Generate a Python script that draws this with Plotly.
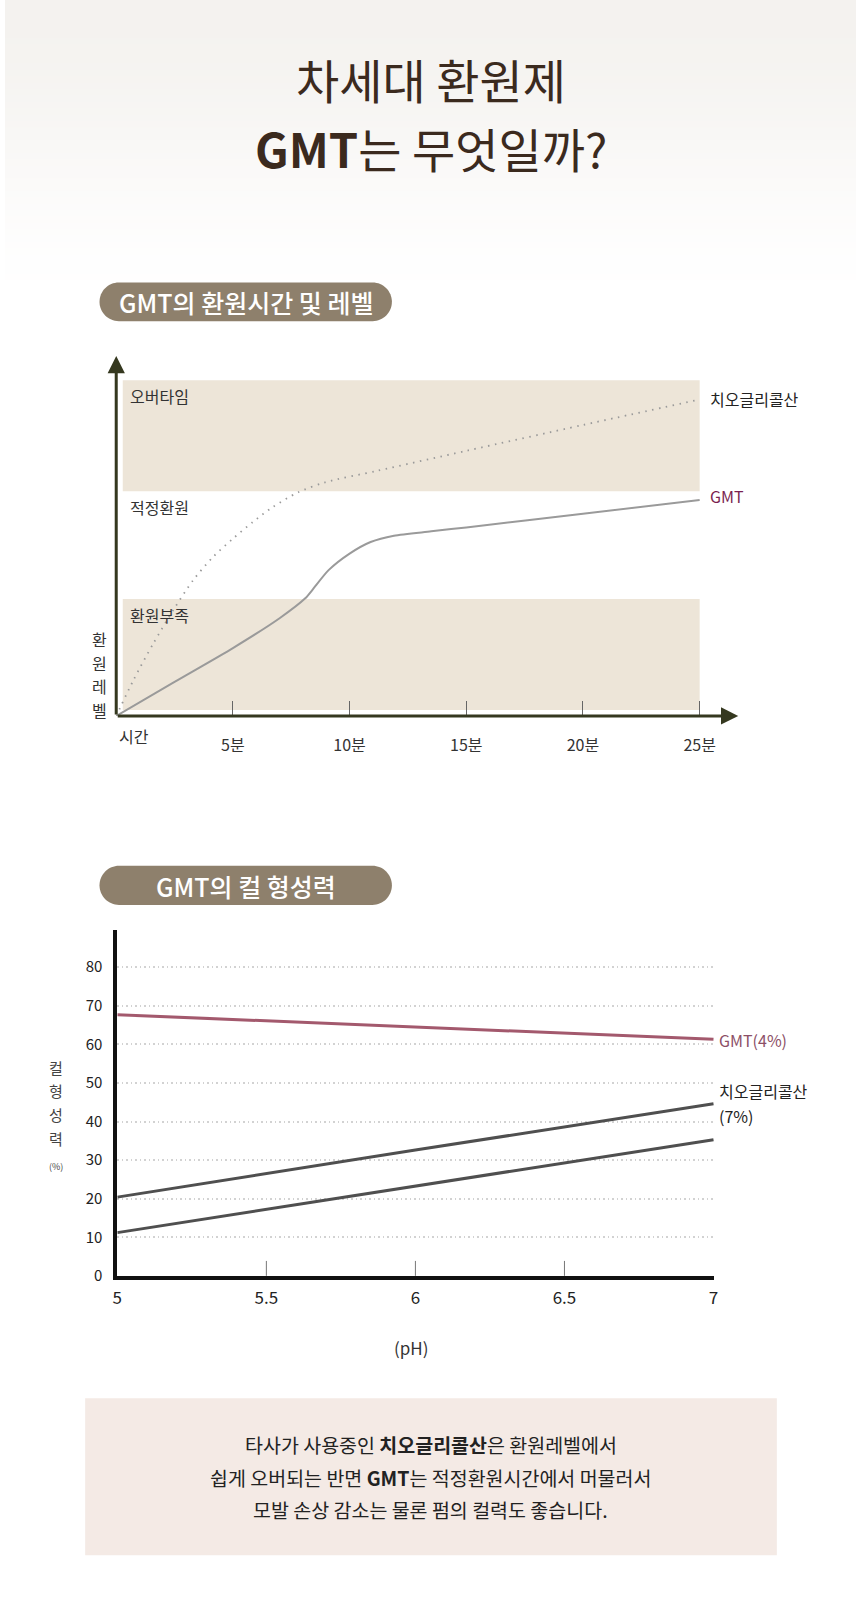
import plotly.graph_objects as go

# ---------------- data ----------------
# Chart 1: 환원시간 및 레벨 (x: minutes, y: relative reduction level)
time_ticks = [5, 10, 15, 20, 25]
time_ticktext = ["5분", "10분", "15분", "20분", "25분"]

gmt_time = [0, 2.5, 5, 7, 8.1, 8.4, 9.1, 10, 10.9, 11.9, 13.5, 15, 20, 25]
gmt_level = [0, 10.3, 20.5, 29.5, 35.5, 38, 44, 49, 52.5, 54.4, 55.7, 56.9, 61, 65.2]

thio_time = [0, 0.75, 1.6, 2.45, 3.3, 4.15, 5, 5.85, 6.7, 7.8, 8.95, 11.2, 15, 20, 25]
thio_level = [0, 11, 22, 32, 41, 48, 53.5, 58.5, 63, 67.5, 70.5, 74, 80, 87.8, 95.5]

zone_names = ["환원부족", "적정환원", "오버타임"]
zone_low = [1.8, 35.3, 67.8]
zone_high = [35.3, 67.8, 101.3]
zone_shaded = [True, False, True]

# Chart 2: 컬 형성력 (x: pH, y: %)
ph_values = [5, 6, 7]
gmt_curl = [67.7, 64.5, 61.3]
thio_curl_high = [20.4, 32.6, 44.6]
thio_curl_low = [11.2, 23.2, 35.3]
ph_ticks = [5, 5.5, 6, 6.5, 7]
ph_ticktext = ["5", "5.5", "6", "6.5", "7"]
ph_tickmarks = [5.5, 6, 6.5]
curl_ticks = [0, 10, 20, 30, 40, 50, 60, 70, 80]

# ---------------- layout helpers ----------------
W, H = 860, 1613
FONT = "Noto Sans CJK KR"


def fx(px):
    return px / W


def fy(py):
    return 1 - py / H


fig = go.Figure()

# background gradient at top
n_strips = 50
strip_h = 6.4
top_rgb = (244, 242, 239)
for i in range(n_strips):
    t = i / (n_strips - 1)
    t = t * t * (3 - 2 * t)
    c = tuple(int(round(top_rgb[k] + (255 - top_rgb[k]) * t)) for k in range(3))
    fig.add_shape(type="rect", xref="paper", yref="paper",
                  x0=0, x1=1, y0=fy(i * strip_h + strip_h + 1), y1=fy(i * strip_h),
                  fillcolor="rgb(%d,%d,%d)" % c, line_width=0, layer="below")


def pill(x0, y0, x1, y1, color):
    r = (y1 - y0) / 2
    k = 0.5523 * r
    pts = [
        ("M", [(x0 + r, y0)]),
        ("L", [(x1 - r, y0)]),
        ("C", [(x1 - r + k, y0), (x1, y0 + r - k), (x1, y0 + r)]),
        ("C", [(x1, y0 + r + k), (x1 - r + k, y1), (x1 - r, y1)]),
        ("L", [(x0 + r, y1)]),
        ("C", [(x0 + r - k, y1), (x0, y0 + r + k), (x0, y0 + r)]),
        ("C", [(x0, y0 + r - k), (x0 + r - k, y0), (x0 + r, y0)]),
    ]
    path = ""
    for cmd, ps in pts:
        path += cmd + " ".join("%.5f,%.5f" % (fx(a), fy(b)) for a, b in ps) + " "
    path += "Z"
    fig.add_shape(type="path", xref="paper", yref="paper", path=path,
                  fillcolor=color, line_width=0, layer="below")


PILL = "#8e806c"
pill(95.5, 284, 391, 323, PILL)
pill(95.5, 870.5, 391, 910, PILL)

# summary box
fig.add_shape(type="rect", xref="paper", yref="paper",
              x0=fx(81), x1=fx(780), y0=fy(1564), y1=fy(1406),
              fillcolor="#f4eae5", line_width=0, layer="below")

# ---------------- Chart 1 ----------------
px_per_min = 23.584
x1_start, x1_end = 112.4, 745
y1_base, y1_top = 720, 350
px_per_lvl = 3.333

band_x0 = 0.28
for name, lo, hi, shaded in zip(zone_names, zone_low, zone_high, zone_shaded):
    if shaded:
        fig.add_shape(type="rect", xref="x", yref="y", x0=band_x0, x1=time_ticks[-1],
                      y0=lo, y1=hi, fillcolor="#ede5d8", line_width=0, layer="below")
    fig.add_annotation(x=0.49, y=hi - 4.8, xref="x", yref="y", text=name,
                       showarrow=False, xanchor="left", yanchor="middle",
                       font=dict(family=FONT, size=16, color="#333333"))

fig.add_trace(go.Scatter(x=thio_time, y=thio_level, mode="lines", xaxis="x", yaxis="y",
                         line=dict(color="#9a9a9a", width=1.8, dash="1.5px,5.5px",
                                   shape="spline", smoothing=0.8),
                         hoverinfo="skip", showlegend=False))
fig.add_trace(go.Scatter(x=gmt_time, y=gmt_level, mode="lines", xaxis="x", yaxis="y",
                         line=dict(color="#9a9a9a", width=2, shape="spline", smoothing=0.7),
                         hoverinfo="skip", showlegend=False))

# axes arrows
AX = "#35381f"
x_tip = (741 - x1_start) / px_per_min
y_tip = (y1_base - 358) / px_per_lvl
fig.add_annotation(x=x_tip, y=0, ax=0, ay=0, xref="x", yref="y", axref="x", ayref="y",
                   text="", showarrow=True, arrowhead=2, arrowsize=1.15, arrowwidth=3,
                   arrowcolor=AX, standoff=0)
fig.add_annotation(x=0, y=y_tip, ax=0, ay=0, xref="x", yref="y", axref="x", ayref="y",
                   text="", showarrow=True, arrowhead=2, arrowsize=1.15, arrowwidth=3,
                   arrowcolor=AX, standoff=0)

# end labels
fig.add_annotation(x=thio_time[-1], y=thio_level[-1], xref="x", yref="y", text="치오글리콜산",
                   showarrow=False, xanchor="left", yanchor="middle", xshift=8,
                   font=dict(family=FONT, size=16, color="#222222"))
fig.add_annotation(x=gmt_time[-1], y=gmt_level[-1], xref="x", yref="y", text="GMT",
                   showarrow=False, xanchor="left", yanchor="middle", xshift=8, yshift=4,
                   font=dict(family=FONT, size=16, color="#7a1f50"))

# vertical y label
for i, ch in enumerate("환원레벨"):
    fig.add_annotation(x=fx(95.5), y=fy(643 + i * 23.5), xref="paper", yref="paper", text=ch,
                       showarrow=False, xanchor="center", yanchor="middle",
                       font=dict(family=FONT, size=16, color="#333333"))
fig.add_annotation(x=fx(130), y=fy(740), xref="paper", yref="paper", text="시간",
                   showarrow=False, xanchor="center", yanchor="middle",
                   font=dict(family=FONT, size=16, color="#333333"))

# ---------------- Chart 2 ----------------
x2_start, x2_end = 113.5, 716.7
x2_px_per = (716 - x2_start) / 2.0
y2_bottom, y2_top = 1283, 935
y2_px_per = 3.88

fig.add_trace(go.Scatter(x=ph_values, y=gmt_curl, mode="lines", xaxis="x2", yaxis="y2",
                         line=dict(color="#a3596d", width=3), hoverinfo="skip", showlegend=False))
fig.add_trace(go.Scatter(x=ph_values, y=thio_curl_high, mode="lines", xaxis="x2", yaxis="y2",
                         line=dict(color="#4f4f4f", width=3), hoverinfo="skip", showlegend=False))
fig.add_trace(go.Scatter(x=ph_values, y=thio_curl_low, mode="lines", xaxis="x2", yaxis="y2",
                         line=dict(color="#4f4f4f", width=3), hoverinfo="skip", showlegend=False))

for v in ph_tickmarks:
    fig.add_shape(type="line", xref="x2", yref="y2 domain", x0=v, x1=v, y0=0,
                  y1=15 / (y2_bottom - y2_top), line=dict(color="#777777", width=1))

fig.add_annotation(x=ph_values[-1], y=gmt_curl[-1], xref="x2", yref="y2", text="GMT(4%)",
                   showarrow=False, xanchor="left", yanchor="middle", xshift=3, yshift=-1,
                   font=dict(family=FONT, size=16, color="#8c4f66"))
fig.add_annotation(x=ph_values[-1], y=thio_curl_high[-1], xref="x2", yref="y2", text="치오글리콜산",
                   showarrow=False, xanchor="left", yanchor="middle", xshift=3, yshift=13,
                   font=dict(family=FONT, size=16, color="#222222"))
fig.add_annotation(x=ph_values[-1], y=thio_curl_high[-1], xref="x2", yref="y2", text="(7%)",
                   showarrow=False, xanchor="left", yanchor="middle", xshift=3, yshift=-12,
                   font=dict(family=FONT, size=16, color="#222222"))

for i, ch in enumerate("컬형성력"):
    fig.add_annotation(x=fx(51.5), y=fy(1073 + i * 24), xref="paper", yref="paper", text=ch,
                       showarrow=False, xanchor="center", yanchor="middle",
                       font=dict(family=FONT, size=15, color="#444444"))
fig.add_annotation(x=fx(51.5), y=fy(1173), xref="paper", yref="paper", text="(%)",
                   showarrow=False, xanchor="center", yanchor="middle",
                   font=dict(family=FONT, size=9, color="#444444"))
fig.add_annotation(x=fx(410), y=fy(1355), xref="paper", yref="paper", text="(pH)",
                   showarrow=False, xanchor="center", yanchor="middle",
                   font=dict(family=FONT, size=17, color="#333333"))

# ---------------- titles & text ----------------
TITLE = "#3b2a1e"
fig.add_annotation(x=fx(430), y=fy(79), xref="paper", yref="paper", text="차세대 환원제",
                   showarrow=False, xanchor="center", yanchor="middle",
                   font=dict(family=FONT, size=47, color=TITLE))
fig.add_annotation(x=fx(430), y=fy(148), xref="paper", yref="paper",
                   text="<b>GMT</b>는 무엇일까?",
                   showarrow=False, xanchor="center", yanchor="middle",
                   font=dict(family=FONT, size=47, color=TITLE))

fig.add_annotation(x=fx(243.5), y=fy(303.5), xref="paper", yref="paper",
                   text="GMT의 환원시간 및 레벨", showarrow=False, xanchor="center", yanchor="middle",
                   font=dict(family=FONT, size=25, color="white", weight=500))
fig.add_annotation(x=fx(243.5), y=fy(890.5), xref="paper", yref="paper",
                   text="GMT의 컬 형성력", showarrow=False, xanchor="center", yanchor="middle",
                   font=dict(family=FONT, size=25, color="white", weight=500))

box_lines = [
    "타사가 사용중인 <b>치오글리콜산</b>은 환원레벨에서",
    "쉽게 오버되는 반면 <b>GMT</b>는 적정환원시간에서 머물러서",
    "모발 손상 감소는 물론 펌의 컬력도 좋습니다.",
]
for i, line in enumerate(box_lines):
    fig.add_annotation(x=fx(430.5), y=fy(1453 + i * 32.6), xref="paper", yref="paper",
                       text=line, showarrow=False, xanchor="center", yanchor="middle",
                       font=dict(family=FONT, size=19.5, color="#222222"))

# ---------------- axes ----------------
fig.update_layout(
    width=W, height=H,
    margin=dict(l=0, r=0, t=0, b=0),
    paper_bgcolor="white",
    plot_bgcolor="rgba(0,0,0,0)",
    showlegend=False,
    xaxis=dict(domain=[fx(x1_start), fx(x1_end)],
               range=[0, (x1_end - x1_start) / px_per_min],
               anchor="y", showline=False, showgrid=False, zeroline=False,
               tickvals=time_ticks, ticktext=time_ticktext,
               ticks="inside", ticklen=15, tickwidth=1, tickcolor="#666666",
               ticklabelstandoff=18,
               tickfont=dict(family=FONT, size=16, color="#333333"), fixedrange=True),
    yaxis=dict(domain=[fy(y1_base), fy(y1_top)],
               range=[0, (y1_base - y1_top) / px_per_lvl],
               anchor="x", visible=False, fixedrange=True),
    xaxis2=dict(domain=[fx(x2_start), fx(x2_end)],
                range=[5, 5 + (x2_end - x2_start) / x2_px_per],
                anchor="y2", showline=True, linewidth=4, linecolor="#111111",
                showgrid=False, zeroline=False, ticks="",
                tickvals=ph_ticks, ticktext=ph_ticktext, ticklabelstandoff=4,
                tickfont=dict(family=FONT, size=17, color="#222222"), fixedrange=True),
    yaxis2=dict(domain=[fy(y2_bottom), fy(y2_top)],
                range=[0, (y2_bottom - y2_top) / y2_px_per],
                anchor="x2", showline=True, linewidth=4, linecolor="#111111",
                showgrid=True, gridcolor="#d2d2d2", griddash="1.5px,3px", gridwidth=1.5,
                zeroline=False, ticks="", tickvals=curl_ticks, ticklabelstandoff=8,
                tickfont=dict(family=FONT, size=15, color="#222222"), fixedrange=True),
)

fig.write_html("out.html", config={"displayModeBar": False},
               post_script="document.body.style.margin='0';document.body.style.overflow='hidden';")
